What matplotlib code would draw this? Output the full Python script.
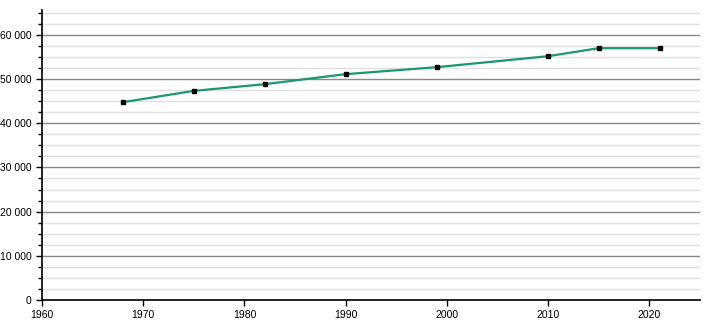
import matplotlib.pyplot as plt
from matplotlib.ticker import MultipleLocator, FuncFormatter

years = [1968, 1975, 1982, 1990, 1999, 2010, 2015, 2021]
population = [44760, 47320, 48830, 51100, 52680, 55170, 56980, 56980]

plt.rcParams['font.family'] = ['Liberation Sans', 'DejaVu Sans']

fig = plt.figure(figsize=(7.1, 3.2), dpi=100)
ax = fig.add_axes([0.059, 0.0625, 0.927, 0.906])

ax.plot(years, population, color='#1a9873', linewidth=1.6, zorder=3)
ax.plot(years, population, 's', color='black', markersize=3.5, zorder=4)

ax.set_xlim(1960, 2025)
ax.set_ylim(0, 65600)

ax.xaxis.set_major_locator(MultipleLocator(10))
ax.yaxis.set_major_locator(MultipleLocator(10000))
ax.yaxis.set_minor_locator(MultipleLocator(2500))
ax.yaxis.set_major_formatter(FuncFormatter(lambda v, p: f"{int(v):,}".replace(",", " ")))

ax.grid(True, which='major', axis='y', color='#8a8a8a', linewidth=1)
ax.grid(True, which='minor', axis='y', color='#e0e0e0', linewidth=1)
ax.set_axisbelow(True)

for s in ['top', 'right']:
    ax.spines[s].set_visible(False)
ax.spines['left'].set_linewidth(1.2)
ax.spines['bottom'].set_linewidth(1.2)

ax.tick_params(axis='both', which='major', labelsize=7.5, length=4, width=1, color='black')
ax.tick_params(axis='y', which='minor', length=3, width=1)

fig.savefig('out.png', dpi=100)
